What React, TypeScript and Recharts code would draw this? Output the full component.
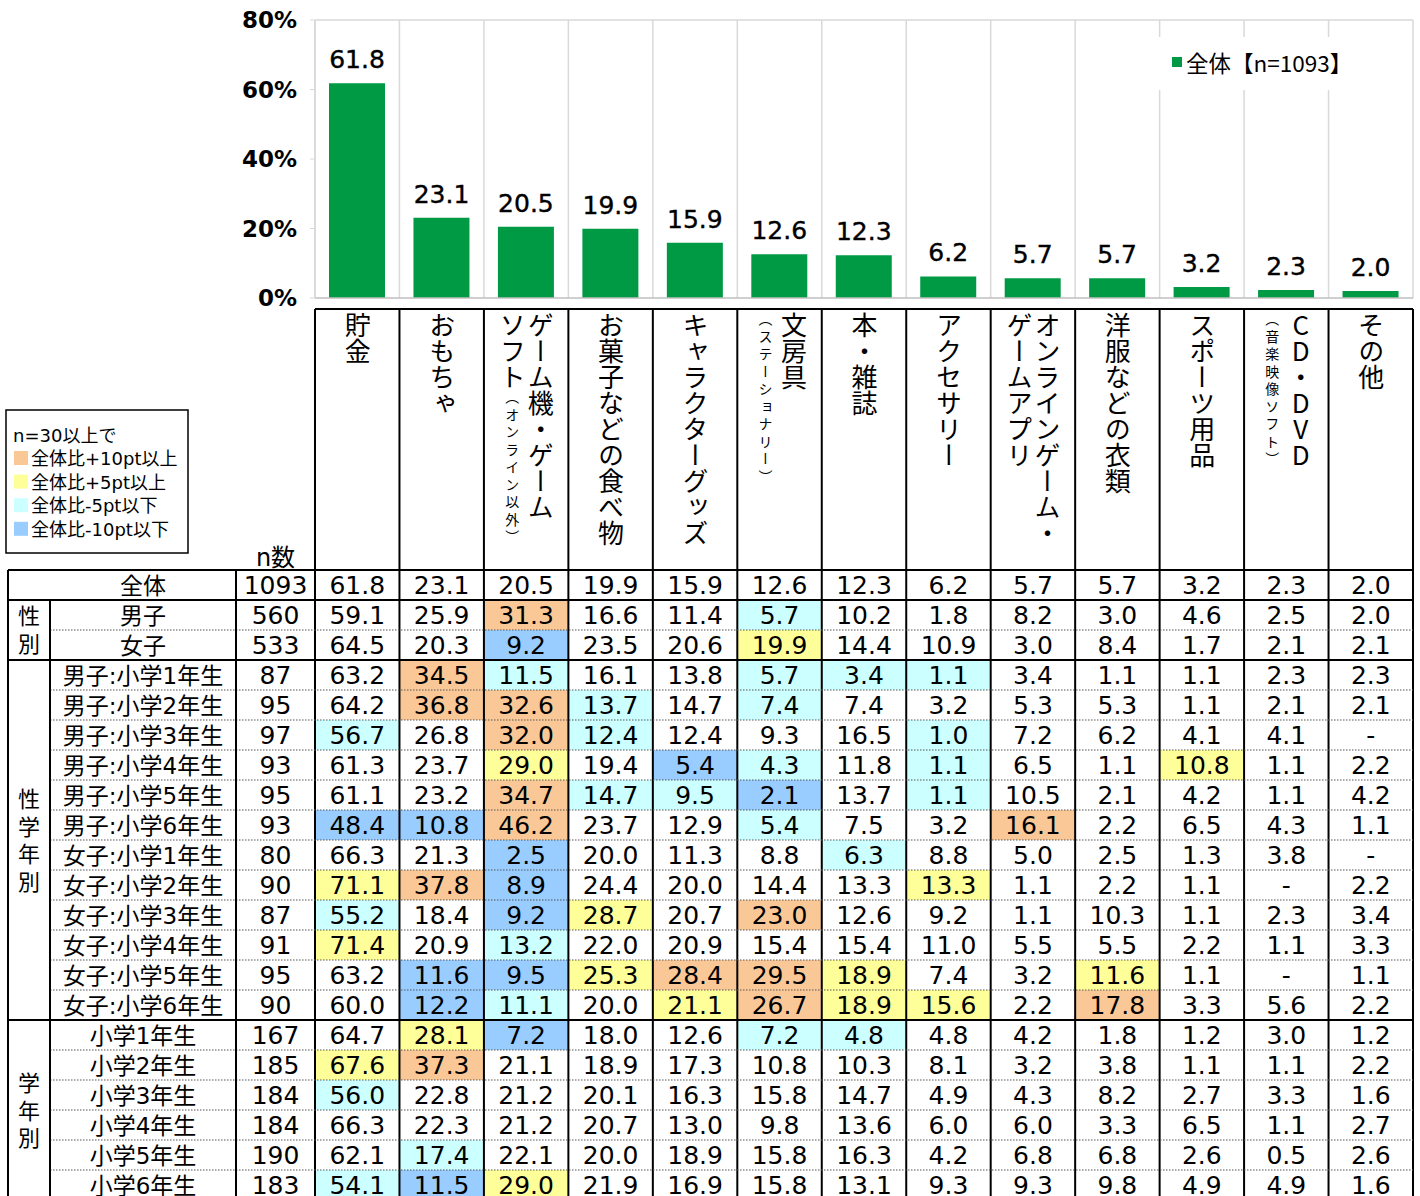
import React from 'react';
import { BarChart, Bar, XAxis, YAxis, CartesianGrid, LabelList, Legend, ReferenceLine } from 'recharts';

// ---------------- data ----------------
const categories = [
  '貯金',
  'おもちゃ',
  'ゲーム機・ゲーム\nソフト（オンライン以外）',
  'お菓子などの食べ物',
  'キャラクターグッズ',
  '文房具\n（ステーショナリー）',
  '本・雑誌',
  'アクセサリー',
  'オンラインゲーム・\nゲームアプリ',
  '洋服などの衣類',
  'スポーツ用品',
  'CD・DVD\n（音楽映像ソフト）',
  'その他',
];

const overallValues = [61.8, 23.1, 20.5, 19.9, 15.9, 12.6, 12.3, 6.2, 5.7, 5.7, 3.2, 2.3, 2.0];
const yTicks = [0, 20, 40, 60, 80];

const rowLabels = [
  '全体', '男子', '女子',
  '男子:小学1年生', '男子:小学2年生', '男子:小学3年生', '男子:小学4年生', '男子:小学5年生', '男子:小学6年生',
  '女子:小学1年生', '女子:小学2年生', '女子:小学3年生', '女子:小学4年生', '女子:小学5年生', '女子:小学6年生',
  '小学1年生', '小学2年生', '小学3年生', '小学4年生', '小学5年生', '小学6年生',
];
const rowN = [1093, 560, 533, 87, 95, 97, 93, 95, 93, 80, 90, 87, 91, 95, 90, 167, 185, 184, 184, 190, 183];

const segmentValues: (number | null)[][] = [
  [59.1, 25.9, 31.3, 16.6, 11.4, 5.7, 10.2, 1.8, 8.2, 3.0, 4.6, 2.5, 2.0],
  [64.5, 20.3, 9.2, 23.5, 20.6, 19.9, 14.4, 10.9, 3.0, 8.4, 1.7, 2.1, 2.1],
  [63.2, 34.5, 11.5, 16.1, 13.8, 5.7, 3.4, 1.1, 3.4, 1.1, 1.1, 2.3, 2.3],
  [64.2, 36.8, 32.6, 13.7, 14.7, 7.4, 7.4, 3.2, 5.3, 5.3, 1.1, 2.1, 2.1],
  [56.7, 26.8, 32.0, 12.4, 12.4, 9.3, 16.5, 1.0, 7.2, 6.2, 4.1, 4.1, null],
  [61.3, 23.7, 29.0, 19.4, 5.4, 4.3, 11.8, 1.1, 6.5, 1.1, 10.8, 1.1, 2.2],
  [61.1, 23.2, 34.7, 14.7, 9.5, 2.1, 13.7, 1.1, 10.5, 2.1, 4.2, 1.1, 4.2],
  [48.4, 10.8, 46.2, 23.7, 12.9, 5.4, 7.5, 3.2, 16.1, 2.2, 6.5, 4.3, 1.1],
  [66.3, 21.3, 2.5, 20.0, 11.3, 8.8, 6.3, 8.8, 5.0, 2.5, 1.3, 3.8, null],
  [71.1, 37.8, 8.9, 24.4, 20.0, 14.4, 13.3, 13.3, 1.1, 2.2, 1.1, null, 2.2],
  [55.2, 18.4, 9.2, 28.7, 20.7, 23.0, 12.6, 9.2, 1.1, 10.3, 1.1, 2.3, 3.4],
  [71.4, 20.9, 13.2, 22.0, 20.9, 15.4, 15.4, 11.0, 5.5, 5.5, 2.2, 1.1, 3.3],
  [63.2, 11.6, 9.5, 25.3, 28.4, 29.5, 18.9, 7.4, 3.2, 11.6, 1.1, null, 1.1],
  [60.0, 12.2, 11.1, 20.0, 21.1, 26.7, 18.9, 15.6, 2.2, 17.8, 3.3, 5.6, 2.2],
  [64.7, 28.1, 7.2, 18.0, 12.6, 7.2, 4.8, 4.8, 4.2, 1.8, 1.2, 3.0, 1.2],
  [67.6, 37.3, 21.1, 18.9, 17.3, 10.8, 10.3, 8.1, 3.2, 3.8, 1.1, 1.1, 2.2],
  [56.0, 22.8, 21.2, 20.1, 16.3, 15.8, 14.7, 4.9, 4.3, 8.2, 2.7, 3.3, 1.6],
  [66.3, 22.3, 21.2, 20.7, 13.0, 9.8, 13.6, 6.0, 6.0, 3.3, 6.5, 1.1, 2.7],
  [62.1, 17.4, 22.1, 20.0, 18.9, 15.8, 16.3, 4.2, 6.8, 6.8, 2.6, 0.5, 2.6],
  [54.1, 11.5, 29.0, 21.9, 16.9, 15.8, 13.1, 9.3, 9.3, 9.8, 4.9, 4.9, 1.6],
];

// highlight codes per row: O = +10pt, Y = +5pt, C = -5pt, B = -10pt
const highlights = [
  '.............',
  '..O..C.......',
  '..B..Y.......',
  '.OC..CCC.....',
  '.OOC.C.......',
  'C.OC...C.....',
  '..Y.BC.C..Y..',
  '..OCCB.C.....',
  'BBO..C..O....',
  '..B...C......',
  'YOB....Y.....',
  'C.BY.O.......',
  'Y.C..........',
  '.BBYOOY..Y...',
  '.BC.YOYY.O...',
  '.YB..CC......',
  'YO...........',
  'C............',
  '.............',
  '.C...........',
  'CBY..........',
];

const groupLabels = [
  { text: '性別', from: 1, to: 2 },
  { text: '性学年別', from: 3, to: 14 },
  { text: '学年別', from: 15, to: 20 },
];
const solidRowBreaks = [0, 1, 3, 15];

const legendNotes = ['n=30以上で'];
const legendItems = [
  { code: 'O', text: '全体比+10pt以上' },
  { code: 'Y', text: '全体比+5pt以上' },
  { code: 'C', text: '全体比-5pt以下' },
  { code: 'B', text: '全体比-10pt以下' },
];

// ---------------- styles / layout ----------------
const GREEN = '#009944';
const FILLS: Record<string, string> = { O: '#FAC896', Y: '#FFFF99', C: '#CCFFFF', B: '#99CCFF' };
const NUM_FONT = '"DejaVu Sans", "Noto Sans CJK JP", sans-serif';
const CJK_FONT = '"Noto Sans CJK JP", sans-serif';

const CHART_W = 1420;
const CHART_H = 1196;
const Y_AXIS_W = 315;
const MARGIN = { top: 20, right: 7, left: 0, bottom: 0 };
const PLOT_RIGHT = CHART_W - MARGIN.right;
const COL_W = (PLOT_RIGHT - Y_AXIS_W) / categories.length;
const HEADER_TOP = 309;
const TABLE_TOP = 570;
const ROW_H = 30;
const TABLE_BOTTOM = TABLE_TOP + ROW_H * rowLabels.length;
const X_LEFT = 8;
const X_GROUP = 50;
const X_N = 236;

const tableRows: (number | null)[][] = [overallValues, ...segmentValues];
const barData = categories.map((name, i) => ({ name, value: overallValues[i] }));
const rowTop = (r: number) => TABLE_TOP + r * ROW_H;

// ---------------- components ----------------
const HeaderLine = ({ line }: { line: string }) => {
  const m = line.match(/^(.*?)(（.*）)?$/);
  const main = m ? m[1] : line;
  const small = m && m[2] ? m[2] : '';
  return (
    <div>
      <span>{main}</span>
      {small && <span style={{ fontSize: 14, letterSpacing: 3.5 }}>{small}</span>}
    </div>
  );
};

const TableColumn = (props: any) => {
  const { x, payload } = props;
  const c = categories.indexOf(payload.value);
  const left = x - COL_W / 2;
  const lines = String(payload.value).split('\n');
  return (
    <g>
      <foreignObject x={left} y={HEADER_TOP} width={COL_W} height={TABLE_TOP - HEADER_TOP}>
        <div
          style={{
            width: '100%',
            height: '100%',
            display: 'flex',
            justifyContent: 'center',
            boxSizing: 'border-box',
            paddingTop: 3,
          }}
        >
          <div
            style={{
              writingMode: 'vertical-rl',
              textOrientation: 'upright',
              fontFamily: CJK_FONT,
              fontSize: 26,
              lineHeight: '28px',
              color: '#000',
              whiteSpace: 'nowrap',
            }}
          >
            {lines.map((ln, i) => (
              <HeaderLine key={i} line={ln} />
            ))}
          </div>
        </div>
      </foreignObject>
      {tableRows.map((row, r) => {
        const code = highlights[r][c];
        const fill = FILLS[code];
        const v = row[c];
        return (
          <g key={r}>
            {fill && <rect x={left} y={rowTop(r)} width={COL_W} height={ROW_H} fill={fill} />}
            <text
              x={x}
              y={rowTop(r) + 24}
              textAnchor="middle"
              fontFamily={NUM_FONT}
              fontSize={25}
              fill="#000"
            >
              {v == null ? '-' : v.toFixed(1)}
            </text>
          </g>
        );
      })}
      <line x1={left} x2={left} y1={HEADER_TOP} y2={TABLE_BOTTOM} stroke="#000" strokeWidth={2} />
      {c === categories.length - 1 && (
        <line x1={left + COL_W} x2={left + COL_W} y1={HEADER_TOP} y2={TABLE_BOTTOM} stroke="#000" strokeWidth={2} />
      )}
    </g>
  );
};

const LegendBox = () => (
  <div
    style={{
      background: '#fff',
      width: 252,
      height: 53,
      display: 'flex',
      alignItems: 'center',
      paddingLeft: 14,
      paddingBottom: 4,
      boxSizing: 'border-box',
      fontFamily: CJK_FONT,
      fontSize: 22.5,
      color: '#000',
    }}
  >
    <span style={{ width: 10, height: 10, background: GREEN, marginRight: 4, display: 'inline-block' }} />
    {`全体【n=${rowN[0]}】`}
  </div>
);

const Overlay = () => (
  <svg
    width={CHART_W}
    height={CHART_H}
    style={{ position: 'absolute', left: 0, top: 0, pointerEvents: 'none' }}
  >
    {/* left legend */}
    <rect x={6} y={410} width={182} height={143} fill="#fff" stroke="#000" strokeWidth={1.5} />
    {legendNotes.map((t, i) => (
      <text key={t} x={13} y={435 + 7 + i * 23.6} fontFamily={NUM_FONT} fontSize={18} fill="#000">
        {t}
      </text>
    ))}
    {legendItems.map((it, i) => {
      const cy = 458 + i * 23.6;
      return (
        <g key={it.code}>
          <rect x={14} y={cy - 7} width={14} height={14} fill={FILLS[it.code]} />
          <text x={31} y={cy + 7} fontFamily={NUM_FONT} fontSize={18} fill="#000">
            {it.text}
          </text>
        </g>
      );
    })}
    <text x={(X_N + Y_AXIS_W) / 2} y={566} textAnchor="middle" fontFamily={NUM_FONT} fontSize={24} fill="#000">
      n数
    </text>

    {/* row labels and n */}
    {rowLabels.map((lab, r) => (
      <g key={lab}>
        <text
          x={(X_GROUP + X_N) / 2}
          y={rowTop(r) + 24}
          textAnchor="middle"
          fontFamily={NUM_FONT}
          fontSize={23}
          fill="#000"
        >
          {lab}
        </text>
        <text
          x={(X_N + Y_AXIS_W) / 2}
          y={rowTop(r) + 24}
          textAnchor="middle"
          fontFamily={NUM_FONT}
          fontSize={25}
          fill="#000"
        >
          {rowN[r]}
        </text>
      </g>
    ))}

    {/* group labels (vertical) */}
    {groupLabels.map((g) => (
      <foreignObject
        key={g.text}
        x={X_LEFT}
        y={rowTop(g.from)}
        width={X_GROUP - X_LEFT}
        height={rowTop(g.to + 1) - rowTop(g.from)}
      >
        <div
          style={{
            width: '100%',
            height: '100%',
            display: 'flex',
            alignItems: 'center',
            justifyContent: 'center',
          }}
        >
          <div
            style={{
              writingMode: 'vertical-rl',
              textOrientation: 'upright',
              fontFamily: CJK_FONT,
              fontSize: 22,
              lineHeight: '24px',
              letterSpacing: 5.5,
              marginTop: 5.5,
              color: '#000',
              whiteSpace: 'nowrap',
            }}
          >
            {g.text}
          </div>
        </div>
      </foreignObject>
    ))}

    {/* horizontal lines */}
    <line x1={Y_AXIS_W} x2={PLOT_RIGHT} y1={HEADER_TOP} y2={HEADER_TOP} stroke="#000" strokeWidth={2} />
    {rowLabels.map((_, r) =>
      solidRowBreaks.includes(r) ? (
        <line key={r} x1={X_LEFT} x2={PLOT_RIGHT} y1={rowTop(r)} y2={rowTop(r)} stroke="#000" strokeWidth={2} />
      ) : (
        <line
          key={r}
          x1={X_GROUP}
          x2={PLOT_RIGHT}
          y1={rowTop(r)}
          y2={rowTop(r)}
          stroke="#555"
          strokeWidth={1.2}
          strokeDasharray="1.5 1.5"
        />
      )
    )}
    <line x1={X_LEFT} x2={PLOT_RIGHT} y1={TABLE_BOTTOM} y2={TABLE_BOTTOM} stroke="#000" strokeWidth={2} />

    {/* vertical lines in the label part */}
    <line x1={X_LEFT} x2={X_LEFT} y1={TABLE_TOP} y2={TABLE_BOTTOM} stroke="#000" strokeWidth={2} />
    <line x1={X_GROUP} x2={X_GROUP} y1={rowTop(1)} y2={TABLE_BOTTOM} stroke="#000" strokeWidth={2} />
    <line x1={X_N} x2={X_N} y1={TABLE_TOP} y2={TABLE_BOTTOM} stroke="#000" strokeWidth={2} />
  </svg>
);

export default function App() {
  return (
    <div style={{ position: 'absolute', left: 0, top: 0, width: CHART_W, height: CHART_H, background: '#fff' }}>
      <BarChart width={CHART_W} height={CHART_H} data={barData} margin={MARGIN}>
        <CartesianGrid
          horizontal={false}
          vertical
          stroke="#d9d9d9"
          strokeWidth={1.5}
          verticalCoordinatesGenerator={({ offset }: any) =>
            Array.from({ length: categories.length + 1 }, (_, i) => offset.left + (i * offset.width) / categories.length)
          }
        />
        <ReferenceLine y={80} stroke="#d9d9d9" strokeWidth={1.5} />
        <XAxis
          dataKey="name"
          height={CHART_H - 298}
          interval={0}
          tickLine={false}
          axisLine={{ stroke: '#bfbfbf', strokeWidth: 1.5 }}
          tick={(p: any) => <TableColumn {...p} />}
        />
        <YAxis
          width={Y_AXIS_W}
          domain={[0, 80]}
          ticks={yTicks}
          interval={0}
          tickFormatter={(v: number) => `${v}%`}
          axisLine={{ stroke: '#d9d9d9', strokeWidth: 1.5 }}
          tickLine={{ stroke: '#d9d9d9' }}
          tickSize={5}
          tickMargin={13}
          tick={{ fill: '#000', fontSize: 23, fontWeight: 'bold', fontFamily: NUM_FONT }}
        />
        <Legend
          layout="horizontal"
          verticalAlign="middle"
          align="center"
          content={() => <LegendBox />}
          wrapperStyle={{ left: 1158, top: 37, width: 252, height: 53 }}
        />
        <Bar dataKey="value" fill={GREEN} barSize={56} isAnimationActive={false}>
          <LabelList
            dataKey="value"
            position="top"
            offset={15}
            formatter={(v: any) => Number(v).toFixed(1)}
            fill="#000"
            stroke="#000"
            strokeWidth={0.4}
            fontSize={25}
            fontFamily={NUM_FONT}
          />
        </Bar>
      </BarChart>
      <Overlay />
    </div>
  );
}
